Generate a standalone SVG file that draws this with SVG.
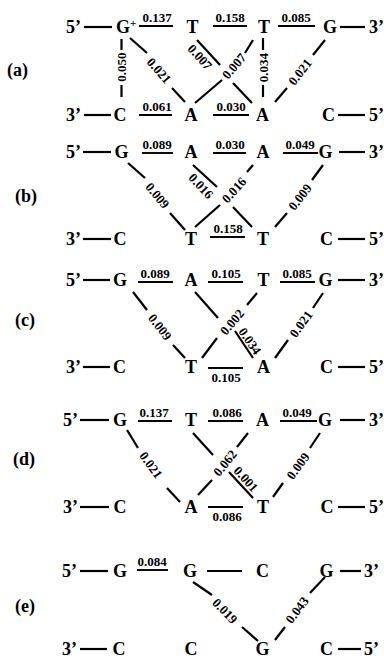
<svg xmlns="http://www.w3.org/2000/svg" width="384" height="658" viewBox="0 0 384 658">
<style>
text{font-family:"Liberation Serif","Times New Roman",serif;font-weight:bold;fill:#000}
.n{font-size:18px;text-anchor:middle}
.e{font-size:18px;text-anchor:start}
.s{font-size:11px;text-anchor:start}
.p{font-size:18px;text-anchor:start}
.l{font-size:13px;text-anchor:middle}
line{stroke:#000;stroke-width:2.2;stroke-linecap:butt}
.u{stroke-width:1.9}
</style>
<rect width="384" height="658" fill="#fff"/>

<!-- panel captions -->
<g id="captions">
<text class="p" x="7" y="76">(a)</text>
<text class="p" x="15" y="202">(b)</text>
<text class="p" x="15" y="326">(c)</text>
<text class="p" x="13" y="465">(d)</text>
<text class="p" x="15" y="612">(e)</text>
</g>

<!-- ===== panel (a) ===== -->
<g id="a-top5"><text class="e" x="66" y="33">5’</text></g>
<g id="a-G1"><text class="n" x="123" y="33">G</text><text class="s" x="130" y="27">+</text></g>
<g id="a-T2"><text class="n" x="192.5" y="33">T</text></g>
<g id="a-T3"><text class="n" x="264" y="33">T</text></g>
<g id="a-G4"><text class="n" x="330" y="33">G</text></g>
<g id="a-top3"><text class="e" x="369" y="33">3’</text></g>
<g id="a-bot3"><text class="e" x="66" y="121">3’</text></g>
<g id="a-C1"><text class="n" x="120" y="121">C</text></g>
<g id="a-A2"><text class="n" x="191" y="121">A</text></g>
<g id="a-A3"><text class="n" x="262.5" y="121">A</text></g>
<g id="a-C4"><text class="n" x="328.5" y="121">C</text></g>
<g id="a-bot5"><text class="e" x="369" y="121">5’</text></g>

<!-- ===== panel (b) ===== -->
<g id="b-top5"><text class="e" x="66" y="158">5’</text></g>
<g id="b-G1"><text class="n" x="121.5" y="158">G</text></g>
<g id="b-A2"><text class="n" x="191" y="158">A</text></g>
<g id="b-A3"><text class="n" x="263" y="158">A</text></g>
<g id="b-G4"><text class="n" x="325.5" y="158">G</text></g>
<g id="b-top3"><text class="e" x="369" y="158">3’</text></g>
<g id="b-bot3"><text class="e" x="66" y="245">3’</text></g>
<g id="b-C1"><text class="n" x="120" y="245">C</text></g>
<g id="b-T2"><text class="n" x="191" y="245">T</text></g>
<g id="b-T3"><text class="n" x="263" y="245">T</text></g>
<g id="b-C4"><text class="n" x="326.5" y="245">C</text></g>
<g id="b-bot5"><text class="e" x="369" y="245">5’</text></g>

<!-- ===== panel (c) ===== -->
<g id="c-top5"><text class="e" x="66" y="286">5’</text></g>
<g id="c-G1"><text class="n" x="120" y="286">G</text></g>
<g id="c-A2"><text class="n" x="191" y="286">A</text></g>
<g id="c-T3"><text class="n" x="263.5" y="286">T</text></g>
<g id="c-G4"><text class="n" x="325.5" y="286">G</text></g>
<g id="c-top3"><text class="e" x="369" y="286">3’</text></g>
<g id="c-bot3"><text class="e" x="66" y="373">3’</text></g>
<g id="c-C1"><text class="n" x="119.5" y="373">C</text></g>
<g id="c-T2"><text class="n" x="191" y="373">T</text></g>
<g id="c-A3"><text class="n" x="263.5" y="373">A</text></g>
<g id="c-C4"><text class="n" x="326.5" y="373">C</text></g>
<g id="c-bot5"><text class="e" x="369" y="373">5’</text></g>

<!-- ===== panel (d) ===== -->
<g id="d-top5"><text class="e" x="63" y="426">5’</text></g>
<g id="d-G1"><text class="n" x="120" y="426">G</text></g>
<g id="d-T2"><text class="n" x="191" y="426">T</text></g>
<g id="d-A3"><text class="n" x="262.5" y="426">A</text></g>
<g id="d-G4"><text class="n" x="325" y="426">G</text></g>
<g id="d-top3"><text class="e" x="369" y="426">3’</text></g>
<g id="d-bot3"><text class="e" x="63" y="513">3’</text></g>
<g id="d-C1"><text class="n" x="120" y="513">C</text></g>
<g id="d-A2"><text class="n" x="191" y="513">A</text></g>
<g id="d-T3"><text class="n" x="263" y="513">T</text></g>
<g id="d-C4"><text class="n" x="327" y="513">C</text></g>
<g id="d-bot5"><text class="e" x="369" y="513">5’</text></g>

<!-- ===== panel (e) ===== -->
<g id="e-top5"><text class="e" x="62" y="577">5’</text></g>
<g id="e-G1"><text class="n" x="120" y="577">G</text></g>
<g id="e-G2"><text class="n" x="190" y="577">G</text></g>
<g id="e-C3"><text class="n" x="262.5" y="577">C</text></g>
<g id="e-G4"><text class="n" x="326.5" y="577">G</text></g>
<g id="e-top3"><text class="e" x="364" y="577">3’</text></g>
<g id="e-bot3"><text class="e" x="62" y="655">3’</text></g>
<g id="e-C1"><text class="n" x="119" y="655">C</text></g>
<g id="e-C2"><text class="n" x="191" y="655">C</text></g>
<g id="e-G3"><text class="n" x="262.5" y="655">G</text></g>
<g id="e-C4"><text class="n" x="326.5" y="655">C</text></g>
<g id="e-bot5"><text class="e" x="364" y="655">5’</text></g>

<!-- connectors with their values -->
<g id="connectors">
  <!-- (a) backbone stubs -->
  <line x1="84" y1="27" x2="112" y2="27"/>
  <line x1="340" y1="27" x2="365" y2="27"/>
  <line x1="84" y1="115" x2="111" y2="115"/>
  <line x1="338" y1="115" x2="365" y2="115"/>
  <!-- (a) horizontal steps -->
  <line class="u" x1="139" y1="26" x2="173" y2="26"/><text class="l" x="157" y="22">0.137</text>
  <line class="u" x1="213" y1="26" x2="247" y2="26"/><text class="l" x="230" y="22">0.158</text>
  <line class="u" x1="278" y1="26" x2="315" y2="26"/><text class="l" x="296" y="22">0.085</text>
  <line class="u" x1="139" y1="115" x2="172" y2="115"/><text class="l" x="157" y="111">0.061</text>
  <line class="u" x1="213" y1="115" x2="249" y2="115"/><text class="l" x="231" y="111">0.030</text>
  <!-- (a) G+ to C -->
  <line x1="121.5" y1="39" x2="121.5" y2="50"/><line x1="121.5" y1="85" x2="121.5" y2="97"/>
  <text class="l" transform="translate(121.5 67) rotate(-90)" y="4.5">0.050</text>
  <!-- (a) G+ to A -->
  <line x1="130" y1="38" x2="147" y2="53"/><line x1="172" y1="88" x2="185" y2="102"/>
  <text class="l" transform="translate(159 70.5) rotate(49)" y="4.5">0.021</text>
  <!-- (a) T to A (down-right) -->
  <line x1="197" y1="40" x2="220" y2="65"/><line x1="233" y1="83" x2="252" y2="103"/>
  <text class="l" transform="translate(200 57) rotate(48)" y="4.5">0.007</text>
  <!-- (a) T to A (down-left) -->
  <line x1="253" y1="40" x2="245" y2="53"/><line x1="222" y1="80" x2="195" y2="103"/>
  <text class="l" transform="translate(234 66) rotate(-50)" y="4.5">0.007</text>
  <!-- (a) T to A (vertical) -->
  <line x1="263" y1="38" x2="263" y2="50"/><line x1="263" y1="85" x2="263" y2="97"/>
  <text class="l" transform="translate(263 67.5) rotate(-90)" y="4.5">0.034</text>
  <!-- (a) G to A -->
  <line x1="325" y1="40" x2="313" y2="55"/><line x1="287" y1="88" x2="275" y2="102"/>
  <text class="l" transform="translate(300 72) rotate(-52)" y="4.5">0.021</text>

  <!-- (b) backbone stubs -->
  <line x1="83" y1="152" x2="111" y2="152"/>
  <line x1="339" y1="152" x2="365" y2="152"/>
  <line x1="83" y1="239" x2="111" y2="239"/>
  <line x1="338" y1="239" x2="365" y2="239"/>
  <!-- (b) horizontal steps -->
  <line class="u" x1="142" y1="153" x2="173" y2="153"/><text class="l" x="157" y="149">0.089</text>
  <line class="u" x1="213" y1="153" x2="246" y2="153"/><text class="l" x="230" y="149">0.030</text>
  <line class="u" x1="283" y1="153" x2="318" y2="153"/><text class="l" x="300" y="149">0.049</text>
  <line class="u" x1="210" y1="237" x2="245" y2="237"/><text class="l" x="228" y="233">0.158</text>
  <!-- (b) diagonals -->
  <line x1="128" y1="163" x2="145" y2="178"/><line x1="170" y1="213" x2="185" y2="230"/>
  <text class="l" transform="translate(157.5 195.5) rotate(50)" y="4.5">0.009</text>
  <line x1="193" y1="165" x2="217" y2="187"/><line x1="233" y1="207" x2="252" y2="227"/>
  <text class="l" transform="translate(201 186) rotate(47)" y="4.5">0.016</text>
  <line x1="253" y1="165" x2="247" y2="172"/><line x1="220" y1="205" x2="195" y2="227"/>
  <text class="l" transform="translate(234 190) rotate(-48)" y="4.5">0.016</text>
  <line x1="323" y1="165" x2="312" y2="180"/><line x1="287" y1="213" x2="275" y2="227"/>
  <text class="l" transform="translate(300 197) rotate(-52)" y="4.5">0.009</text>

  <!-- (c) backbone stubs -->
  <line x1="83" y1="280" x2="110" y2="280"/>
  <line x1="338" y1="280" x2="365" y2="280"/>
  <line x1="83" y1="367" x2="110" y2="367"/>
  <line x1="338" y1="367" x2="365" y2="367"/>
  <!-- (c) horizontal steps -->
  <line class="u" x1="138" y1="282" x2="173" y2="282"/><text class="l" x="155" y="278">0.089</text>
  <line class="u" x1="208" y1="282" x2="243" y2="282"/><text class="l" x="226" y="278">0.105</text>
  <line class="u" x1="280" y1="282" x2="315" y2="282"/><text class="l" x="297" y="278">0.085</text>
  <line class="u" x1="208" y1="368" x2="243" y2="368"/><text class="l" x="226" y="382">0.105</text>
  <!-- (c) diagonals -->
  <line x1="133" y1="292" x2="147" y2="310"/><line x1="173" y1="345" x2="185" y2="358"/>
  <text class="l" transform="translate(160 327) rotate(52)" y="4.5">0.009</text>
  <line x1="195" y1="292" x2="218" y2="318"/><line x1="235" y1="331" x2="253" y2="358"/>
  <text class="l" transform="translate(250 341) rotate(55)" y="4.5">0.034</text>
  <line x1="257" y1="293" x2="247" y2="305"/><line x1="217" y1="338" x2="202" y2="358"/>
  <text class="l" transform="translate(232 322) rotate(-50)" y="4.5">0.002</text>
  <line x1="323" y1="293" x2="313" y2="308"/><line x1="288" y1="340" x2="275" y2="358"/>
  <text class="l" transform="translate(301 324) rotate(-54)" y="4.5">0.021</text>

  <!-- (d) backbone stubs -->
  <line x1="80" y1="420" x2="109" y2="420"/>
  <line x1="340" y1="420" x2="365" y2="420"/>
  <line x1="80" y1="507" x2="109" y2="507"/>
  <line x1="338" y1="507" x2="365" y2="507"/>
  <!-- (d) horizontal steps -->
  <line class="u" x1="138" y1="421" x2="172" y2="421"/><text class="l" x="154" y="417">0.137</text>
  <line class="u" x1="208" y1="421" x2="243" y2="421"/><text class="l" x="227" y="417">0.086</text>
  <line class="u" x1="280" y1="421" x2="317" y2="421"/><text class="l" x="297" y="417">0.049</text>
  <line class="u" x1="208" y1="507" x2="243" y2="507"/><text class="l" x="227" y="521">0.086</text>
  <!-- (d) diagonals -->
  <line x1="127" y1="430" x2="138" y2="448"/><line x1="167" y1="488" x2="180" y2="502"/>
  <text class="l" transform="translate(151 465) rotate(54)" y="4.5">0.021</text>
  <line x1="193" y1="433" x2="213" y2="455"/><line x1="229" y1="472" x2="253" y2="498"/>
  <text class="l" transform="translate(246 479) rotate(48)" y="4.5">0.001</text>
  <line x1="248" y1="433" x2="237" y2="447"/><line x1="212" y1="480" x2="198" y2="495"/>
  <text class="l" transform="translate(225 463) rotate(-51)" y="4.5">0.062</text>
  <line x1="320" y1="433" x2="310" y2="448"/><line x1="283" y1="483" x2="273" y2="497"/>
  <text class="l" transform="translate(298 466) rotate(-54)" y="4.5">0.009</text>

  <!-- (e) backbone stubs -->
  <line x1="80" y1="571" x2="108" y2="571"/>
  <line x1="207" y1="571" x2="242" y2="571"/>
  <line x1="340" y1="571" x2="361" y2="571"/>
  <line x1="80" y1="649" x2="107" y2="649"/>
  <line x1="338" y1="649" x2="361" y2="649"/>
  <!-- (e) horizontal step -->
  <line class="u" x1="137" y1="570" x2="168" y2="570"/><text class="l" x="152" y="566">0.084</text>
  <!-- (e) diagonals -->
  <line x1="193" y1="582" x2="212" y2="595"/><line x1="242" y1="627" x2="258" y2="641"/>
  <text class="l" transform="translate(225 611) rotate(46)" y="4.5">0.019</text>
  <line x1="325" y1="577" x2="310" y2="593"/><line x1="285" y1="627" x2="275" y2="640"/>
  <text class="l" transform="translate(297 610) rotate(-53)" y="4.5">0.043</text>
</g>
</svg>
